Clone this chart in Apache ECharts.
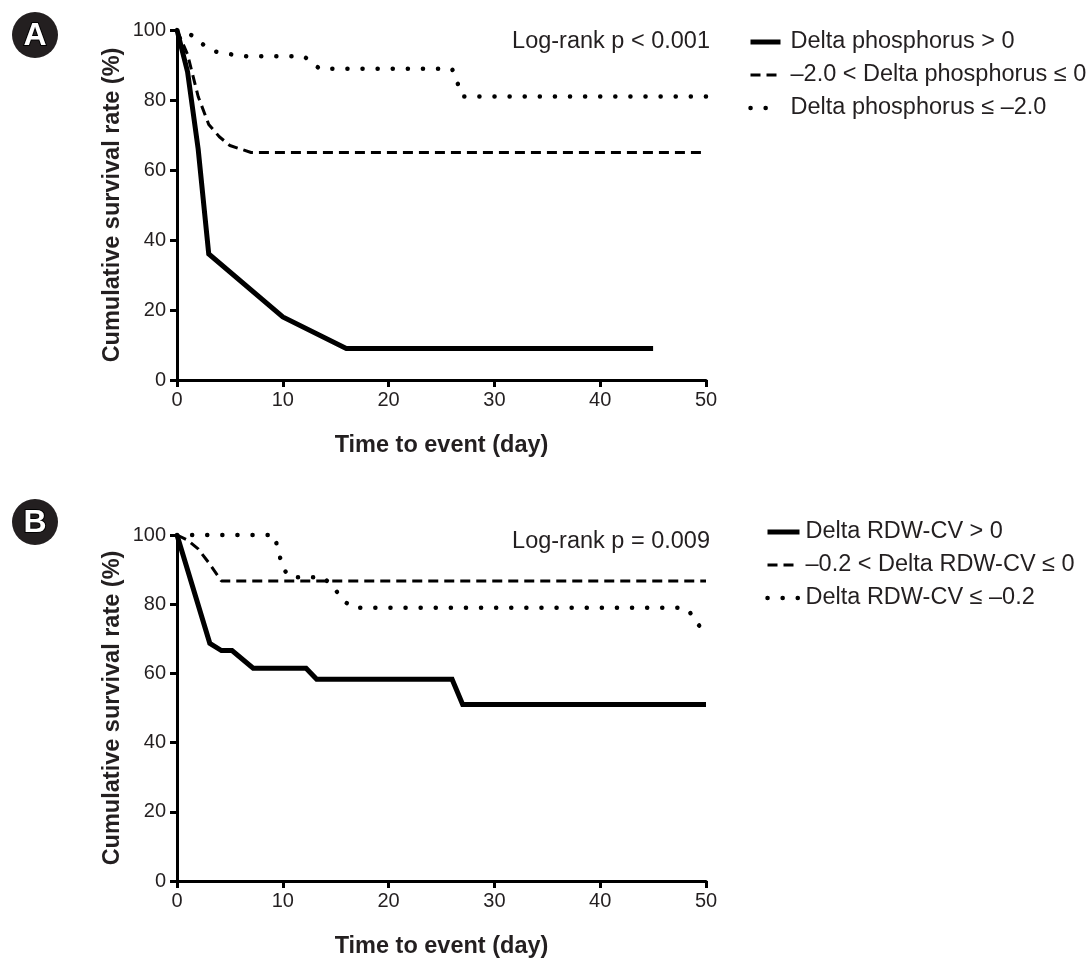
<!DOCTYPE html>
<html>
<head>
<meta charset="utf-8">
<script src="https://cdn.jsdelivr.net/npm/echarts@6/dist/echarts.min.js"></script>
<style>
html,body{margin:0;padding:0;background:#fff;}
#chart{width:1090px;height:960px;}
</style>
</head>
<body>
<div id="chart"></div>
<script>
// ---------- Data ----------
const xTicks = [0, 10, 20, 30, 40, 50];
const yTicks = [0, 20, 40, 60, 80, 100];

// Panel A: Delta phosphorus
const namesA = ['Delta phosphorus > 0', '\u20132.0 < Delta phosphorus \u2264 0', 'Delta phosphorus \u2264 \u20132.0'];
const aSolidDays  = [0, 1, 2, 3, 10, 16, 45];
const aSolidSurv  = [100, 88, 66, 36, 18, 9, 9];
const aDashDays   = [0, 1, 2, 3, 4, 5, 7, 50];
const aDashSurv   = [100, 93, 81, 73, 69.5, 67, 65, 65];
const aDotDays    = [0, 1.4, 2.5, 3.7, 5.2, 6.6, 12, 13.5, 26, 27, 50];
const aDotSurv    = [100, 98.5, 95.8, 93.8, 93, 92.5, 92.5, 88.9, 88.9, 81, 81];
const pTextA = 'Log-rank p < 0.001';

// Panel B: Delta RDW-CV
const namesB = ['Delta RDW-CV > 0', '\u20130.2 < Delta RDW-CV \u2264 0', 'Delta RDW-CV \u2264 \u20130.2'];
const bSolidDays  = [0, 3.1, 4.2, 5.2, 7.2, 12.2, 13.2, 26, 27, 50];
const bSolidSurv  = [100, 68.7, 66.6, 66.6, 61.5, 61.5, 58.3, 58.3, 51, 51];
const bDashDays   = [0, 1, 2, 3, 4.2, 50];
const bDashSurv   = [100, 98.5, 96, 92, 86.7, 86.7];
const bDotDays    = [0, 9.2, 10, 10.7, 13.8, 14.8, 15.6, 16.6, 47.5, 48.3, 50];
const bDotSurv    = [100, 100, 90.4, 87.8, 87.8, 85, 81.4, 79, 79, 78.4, 71];
const pTextB = 'Log-rank p = 0.009';

const panelLetters = ['A', 'B'];
const xTitle = 'Time to event (day)';
const yTitle = 'Cumulative survival rate (%)';

// ---------- Helpers ----------
const zip = (xs, ys) => xs.map((x, i) => [x, ys[i]]);
const FONT = "'Liberation Sans', Arial, Helvetica, sans-serif";
const INK = '#231f20';

const solidStyle = { color: '#000', width: 5, type: 'solid', cap: 'butt', join: 'miter' };
const dashStyle  = { color: '#000', width: 3, type: [10, 6], cap: 'butt' };
const dotStyle   = { color: '#000', width: 4.5, type: [0.1, 15], cap: 'round' };

function mkSeries(name, days, surv, idx, style, z) {
  return {
    name: name, type: 'line', xAxisIndex: idx, yAxisIndex: idx,
    data: zip(days, surv), symbol: 'none', smooth: false, clip: false,
    lineStyle: style, itemStyle: { color: '#000' }, z: z,
    silent: true, animation: false
  };
}

function mkX(idx) {
  return {
    gridIndex: idx, type: 'value', min: 0, max: 50, interval: 10,
    name: xTitle, nameLocation: 'middle', nameGap: 54,
    nameTextStyle: { fontFamily: FONT, fontWeight: 'bold', fontSize: 23.5, color: INK },
    axisLine: { show: true, lineStyle: { color: '#000', width: 3 } },
    axisTick: { show: true, inside: false, length: 7, lineStyle: { color: '#000', width: 3 } },
    axisLabel: { fontFamily: FONT, fontSize: 20, color: INK, margin: 10,
      formatter: v => xTicks.includes(v) ? String(v) : '' },
    splitLine: { show: false }
  };
}
function mkY(idx) {
  return {
    gridIndex: idx, type: 'value', min: 0, max: 100, interval: 20,
    name: yTitle, nameLocation: 'middle', nameGap: 52, nameRotate: 90,
    nameTextStyle: { fontFamily: FONT, fontWeight: 'bold', fontSize: 23.5, color: INK },
    axisLine: { show: true, lineStyle: { color: '#000', width: 3 } },
    axisTick: { show: true, inside: false, length: 7, lineStyle: { color: '#000', width: 3 } },
    axisLabel: { fontFamily: FONT, fontSize: 20, color: INK, margin: 11,
      formatter: v => yTicks.includes(v) ? String(v) : '' },
    splitLine: { show: false }
  };
}
function mkLegend(names, left, top, iconW, textGap) {
  return {
    orient: 'vertical', left: left, top: top, data: names, padding: 0,
    itemWidth: iconW, itemHeight: 14, itemGap: 9,
    lineStyle: { width: 'inherit' },
    itemStyle: { opacity: 0 },
    textStyle: { fontFamily: FONT, fontSize: 23.5, color: INK, lineHeight: 24, padding: [0, 0, 0, textGap] },
    selectedMode: false
  };
}
function badge(letter, cx, cy) {
  return [
    { type: 'circle', shape: { cx: cx, cy: cy, r: 23 }, style: { fill: INK } },
    { type: 'text', x: cx, y: cy + 1,
      style: { text: letter, align: 'center', verticalAlign: 'middle',
        font: 'bold 32px ' + FONT, fill: '#fff', stroke: '#000', lineWidth: 2 } }
  ];
}

const chart = echarts.init(document.getElementById('chart'), null, { renderer: 'canvas' });
chart.setOption({
  backgroundColor: '#fff',
  animation: false,
  grid: [
    { left: 177, top: 30, width: 529, height: 350 },
    { left: 177, top: 535, width: 529, height: 350 }
  ],
  xAxis: [mkX(0), mkX(1)],
  yAxis: [mkY(0), mkY(1)],
  legend: [mkLegend(namesA, 748, 30, 30, 5), mkLegend(namesB, 765, 520, 32, 1)],
  series: [
    mkSeries(namesA[2], aDotDays, aDotSurv, 0, dotStyle, 2),
    mkSeries(namesA[1], aDashDays, aDashSurv, 0, dashStyle, 3),
    mkSeries(namesA[0], aSolidDays, aSolidSurv, 0, solidStyle, 4),
    mkSeries(namesB[2], bDotDays, bDotSurv, 1, dotStyle, 2),
    mkSeries(namesB[1], bDashDays, bDashSurv, 1, dashStyle, 3),
    mkSeries(namesB[0], bSolidDays, bSolidSurv, 1, solidStyle, 4)
  ],
  graphic: [
    ...badge(panelLetters[0], 35, 35),
    ...badge(panelLetters[1], 35, 522),
    { type: 'text', x: 710, y: 42, style: { text: pTextA, align: 'right', verticalAlign: 'middle', font: '23.5px ' + FONT, fill: INK } },
    { type: 'text', x: 710, y: 542, style: { text: pTextB, align: 'right', verticalAlign: 'middle', font: '23.5px ' + FONT, fill: INK } }
  ]
});
</script>
</body>
</html>
